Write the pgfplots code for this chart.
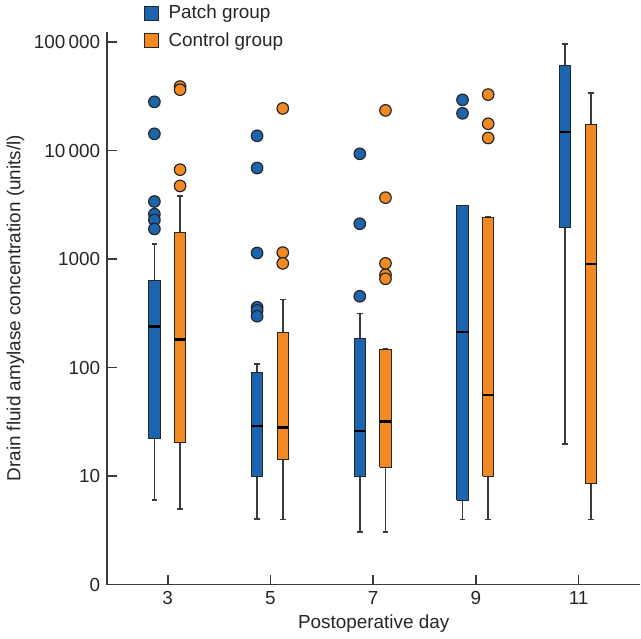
\documentclass[border=0pt]{standalone}
\usepackage{fontspec}
\setmainfont{Liberation Sans}
\usepackage{pgfplots}
\pgfplotsset{compat=1.18}
\definecolor{pblue}{HTML}{1D64AE}
\definecolor{porange}{HTML}{F28A24}
\definecolor{axgray}{HTML}{3A3A3A}
% box: #1 position, #2 lower whisker, #3 lower quartile, #4 median, #5 upper quartile, #6 upper whisker, #7 colour
\newcommand{\bx}[7]{%
  \pgfmathsetmacro\xa{#1-0.11}\pgfmathsetmacro\xb{#1+0.11}%
  \pgfmathsetmacro\ca{#1-0.055}\pgfmathsetmacro\cb{#1+0.055}%
  \addplot[forget plot, draw=axgray, line width=0.8pt] coordinates {(#1,#2) (#1,#3)};
  \addplot[forget plot, draw=axgray, line width=0.8pt] coordinates {(#1,#5) (#1,#6)};
  \addplot[forget plot, draw=axgray, line width=0.8pt] coordinates {(\ca,#2) (\cb,#2)};
  \addplot[forget plot, draw=axgray, line width=0.8pt] coordinates {(\ca,#6) (\cb,#6)};
  \addplot[forget plot, fill=#7, draw=black!85, line width=0.5pt, line join=miter]
    coordinates {(\xa,#3) (\xb,#3) (\xb,#5) (\xa,#5) (\xa,#3)};
  \addplot[forget plot, draw=black, line width=1.3pt] coordinates {(\xa,#4) (\xb,#4)};
}
\begin{document}
\begin{tikzpicture}
\begin{axis}[
  scale only axis, width=268pt, height=278pt,
  ymode=log, ymin=1, ymax=125000,
  xmin=1.82, xmax=12.2,
  xtick={3,5,7,9,11},
  ytick={1,10,100,1000,10000,100000},
  yticklabels={0,10,100,1000,10\,000,100\,000},
  yminorticks=false,
  axis lines=left, axis line style={-, draw=axgray, line width=0.8pt},
  tick style={draw=axgray, line width=0.8pt}, major tick length=5pt, tick align=inside,
  /pgf/number format/assume math mode=true,
  tick label style={font=\fontsize{9.5}{11.5}\selectfont, text=black!85},
  label style={font=\fontsize{9.5}{11.5}\selectfont, text=black!85},
  xlabel={Postoperative day},
  ylabel={Drain fluid amylase concentration (units/l)},
  ylabel style={yshift=-2pt},
  xlabel style={yshift=2pt},
  legend style={at={(0.066,1.058)}, anchor=north west, draw=none, fill=none,
    inner sep=0.5pt, font=\fontsize{9.5}{11.5}\selectfont, row sep=1.5pt, text=black!85},
  legend cell align=left,
  legend image code/.code={\draw[#1] (0pt,-3.5pt) rectangle (7pt,3.5pt);},
  clip=false,
]
\addlegendimage{fill=pblue, draw=black!85, line width=0.5pt}
\addlegendentry{\hspace{3pt}Patch group}
\addlegendimage{fill=porange, draw=black!85, line width=0.5pt}
\addlegendentry{\hspace{3pt}Control group}

% Patch group (blue)
\bx{2.74}{6}{22}{238}{637}{1380}{pblue}
\bx{4.74}{4.05}{10}{29}{90}{108}{pblue}
\bx{6.74}{3.05}{10}{26}{184}{316}{pblue}
\bx{8.74}{4}{6}{213}{3100}{3100}{pblue}
\bx{10.74}{19.9}{1950}{14800}{60700}{96600}{pblue}
% Control group (orange)
\bx{3.24}{5}{20.3}{182}{1760}{3820}{porange}
\bx{5.24}{4}{14.2}{27.9}{211}{424}{porange}
\bx{7.24}{3.05}{12.1}{32}{148}{148}{porange}
\bx{9.24}{4}{10}{56}{2440}{2440}{porange}
\bx{11.24}{4}{8.57}{906}{17500}{34000}{porange}

% Outliers
\addplot[forget plot, only marks, mark=*, mark size=2.9pt,
  mark options={fill=pblue, draw=black!85, line width=0.6pt}] coordinates {
  (2.74,28200) (2.74,14300) (2.74,3400) (2.74,2600) (2.74,2300) (2.74,1900)
  (4.74,13700) (4.74,6920) (4.74,1140) (4.74,360) (4.74,337) (4.74,298)
  (6.74,9350) (6.74,2120) (6.74,455)
  (8.74,29400) (8.74,22100)
};
\addplot[forget plot, only marks, mark=*, mark size=2.9pt,
  mark options={fill=porange, draw=black!85, line width=0.6pt}] coordinates {
  (3.24,39000) (3.24,36500) (3.24,6680) (3.24,4730)
  (5.24,24500) (5.24,1150) (5.24,914)
  (7.24,23500) (7.24,3690) (7.24,914) (7.24,718) (7.24,659)
  (9.24,32900) (9.24,17700) (9.24,13100)
};
\end{axis}
\end{tikzpicture}
\end{document}
